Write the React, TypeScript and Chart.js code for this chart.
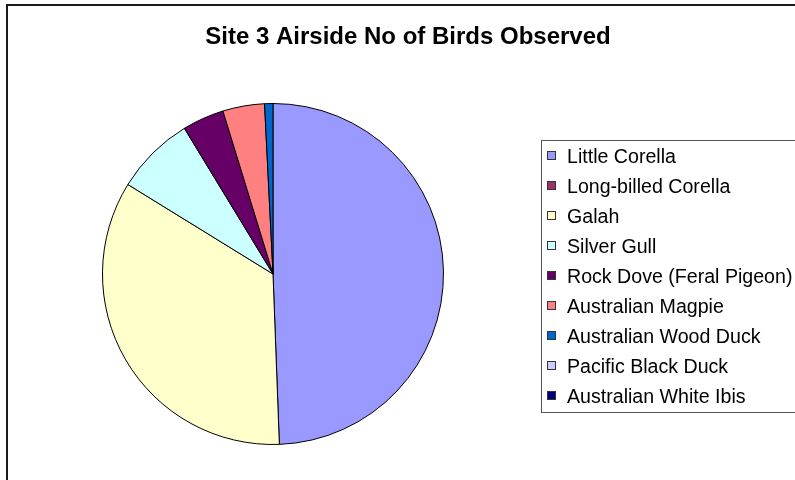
import React, { useEffect, useRef } from "react";
import { Chart, registerables } from "chart.js";

Chart.register(...registerables);

const TITLE = "Site 3 Airside No of Birds Observed";
const species = [
  "Little Corella",
  "Long-billed Corella",
  "Galah",
  "Silver Gull",
  "Rock Dove (Feral Pigeon)",
  "Australian Magpie",
  "Australian Wood Duck",
  "Pacific Black Duck",
  "Australian White Ibis",
];
const birdCounts = [125, 0, 87, 19, 10, 10, 2, 0, 0];
const sliceColors = [
  "#9999FF",
  "#993366",
  "#FFFFCC",
  "#CCFFFF",
  "#660066",
  "#FF8080",
  "#0066CC",
  "#CCCCFF",
  "#000080",
];

const FONT = "'Liberation Sans', Arial, sans-serif";

const framePlugin = {
  id: "frame",
  afterDraw(chart: any) {
    const ctx = chart.ctx as CanvasRenderingContext2D;
    ctx.save();
    // outer chart border
    ctx.strokeStyle = "#1a1a1a";
    ctx.lineWidth = 2;
    ctx.strokeRect(7, 5, 820, 520);
    // title
    ctx.fillStyle = "#000";
    ctx.font = `bold 24px ${FONT}`;
    ctx.textAlign = "center";
    ctx.textBaseline = "alphabetic";
    ctx.fillText(TITLE, 408, 44);
    // legend box
    ctx.strokeStyle = "#555";
    ctx.lineWidth = 1;
    ctx.strokeRect(541.5, 140.5, 300, 272);
    ctx.font = `19.6px ${FONT}`;
    ctx.textAlign = "left";
    const labels = chart.data.labels as string[];
    const colors = chart.data.datasets[0].backgroundColor as string[];
    labels.forEach((lab, i) => {
      const y = 163 + i * 29.95;
      const top = Math.round(y - 12);
      ctx.fillStyle = colors[i];
      ctx.fillRect(547, top, 9, 9);
      ctx.strokeStyle = "#333";
      ctx.strokeRect(547.5, top + 0.5, 8, 8);
      ctx.fillStyle = "#000";
      ctx.fillText(lab, 567, y);
    });
    ctx.restore();
  },
};

export default function App() {
  const ref = useRef<HTMLCanvasElement | null>(null);
  useEffect(() => {
    if (!ref.current) return;
    const chart = new Chart(ref.current, {
      type: "pie",
      data: {
        labels: species,
        datasets: [
          {
            data: birdCounts,
            backgroundColor: sliceColors,
            borderColor: "#000",
            borderWidth: 1,
          },
        ],
      },
      options: {
        animation: false,
        responsive: false,
        layout: { padding: { left: 102, right: 351, top: 103, bottom: 35 } },
        plugins: {
          legend: { display: false },
          title: { display: false },
          tooltip: { enabled: false },
        },
      },
      plugins: [framePlugin],
    });
    return () => chart.destroy();
  }, []);
  return (
    <div style={{ position: "fixed", left: 0, top: 0, width: 795, height: 480, background: "#fff" }}>
      <canvas ref={ref} width={795} height={480} style={{ width: 795, height: 480 }} />
    </div>
  );
}
